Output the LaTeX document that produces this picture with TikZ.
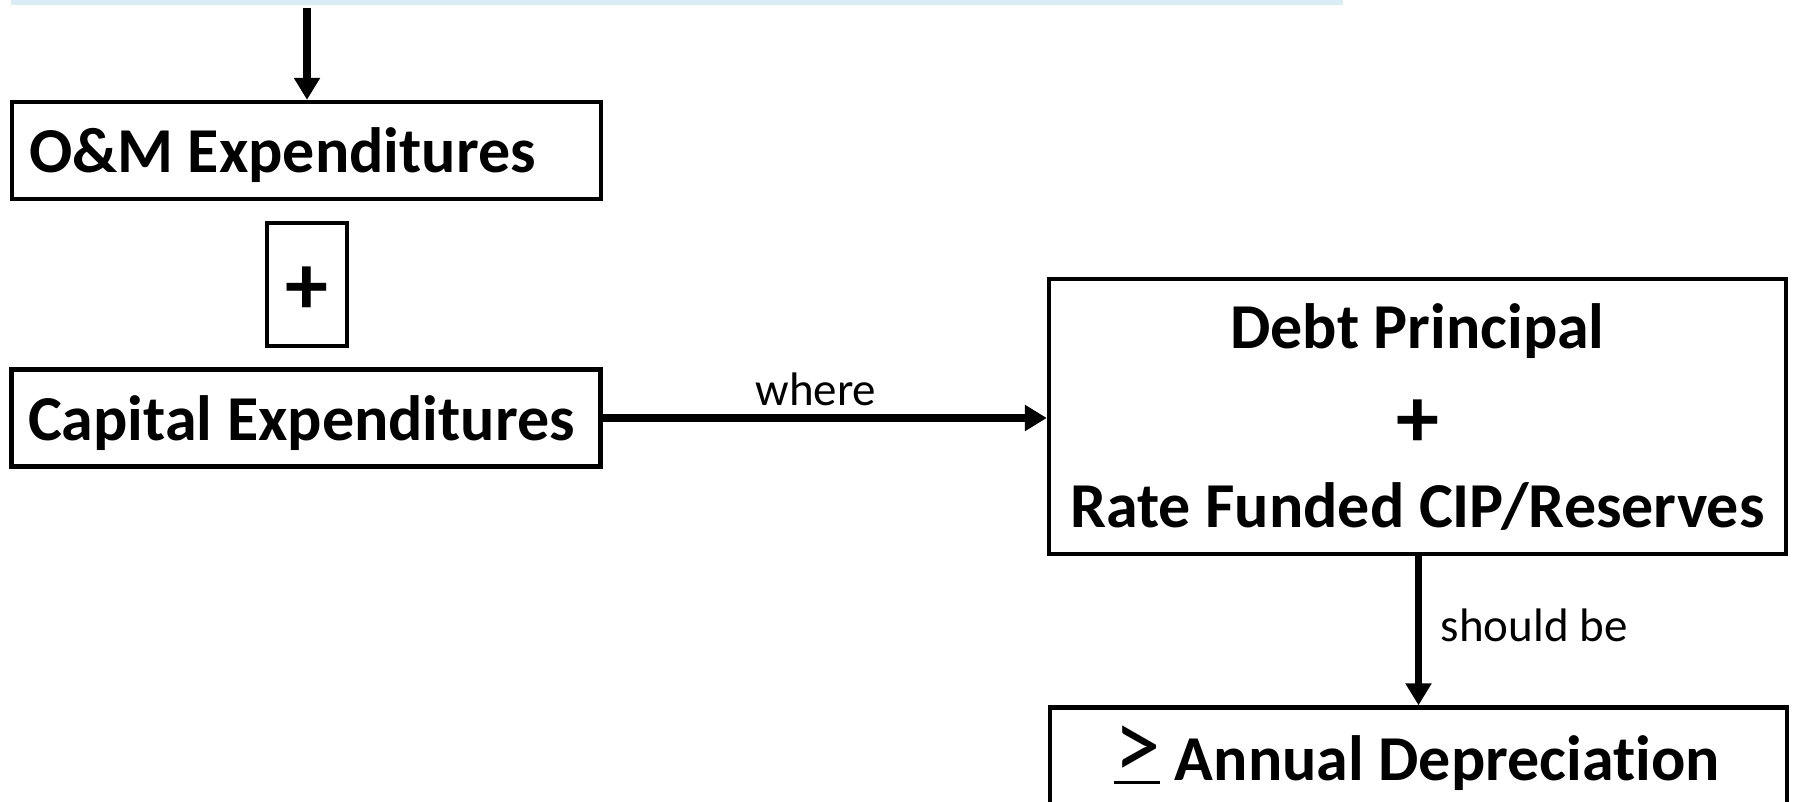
\documentclass[tikz,border=0pt]{standalone}
\usepackage{fontspec}
\setmainfont[Ligatures={NoCommon,NoContextual}]{Carlito}
\usetikzlibrary{arrows.meta}
\definecolor{barblue}{HTML}{DAEDF4}
\newcommand{\mygeq}{\lower1.8pt\vbox{\hbox{\mdseries\scalebox{1.45}[1.6]{>}}\kern1pt\hrule height 1.5pt}}
\tikzset{
  box/.style={draw=black, line width=2.2pt, fill=white, inner sep=0pt},
  big/.style={font=\fontsize{32}{45}\selectfont\bfseries},
  bigplus/.style={font=\fontsize{43}{45}\selectfont\bfseries},
  small/.style={font=\fontsize{23.5}{28}\selectfont},
  conn/.style={line width=3.6pt, -{Triangle[length=11pt,width=12.5pt]}}
}
\begin{document}
\begin{tikzpicture}[x=0.5pt,y=-0.5pt]
\useasboundingbox (0,0) rectangle (1795,802);
\clip (0,0) rectangle (1795,802);
\fill[barblue] (11,0) rectangle (1343,5);
\coordinate (topsrc) at (307,8);
\node[box, minimum width=294.5pt, minimum height=48.5pt] (om) at (306.5,150.5) {};
\node[big, anchor=west] (omt) at (22,155) {O\&M Expenditures};
\node[box, minimum width=40pt, minimum height=61.5pt] (plus) at (307,284.5) {};
\node[bigplus] (plust) at (307,291) {+};
\node[box, minimum width=294.5pt, minimum height=48.5pt] (cap) at (306,418) {};
\node[big, anchor=west] (capt) at (21,423) {Capital Expenditures};
\node[box, minimum width=368.5pt, minimum height=137.5pt] (debt) at (1417.5,416.5) {};
\node[big] (debt1) at (1417.5,331) {Debt Principal};
\node[bigplus] (debt2) at (1417.5,424) {+};
\node[big] (debt3) at (1417.5,506) {Rate Funded CIP/Reserves};
\node[box, minimum width=368.5pt, minimum height=48.5pt] (dep) at (1418.5,756) {};
\node[big] (dept) at (1417,758) {\mygeq\ Annual Depreciation};
\draw[conn] (topsrc) -- (om.north -| topsrc);
\draw[conn] (cap.east) -- (debt.west |- cap.east) node[pos=0.48, above=1pt, small] (where) {where};
\draw[conn] (debt.south -| dep.north) -- (dep.north) node[midway, right=6pt, yshift=2.5pt, small] (should) {should be};
\end{tikzpicture}
\end{document}
